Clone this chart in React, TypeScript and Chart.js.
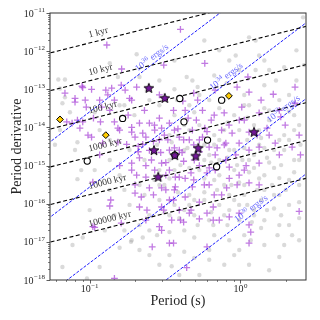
import React, { useEffect, useRef } from "react";
import { Chart, registerables } from "chart.js";

Chart.register(...registerables);

// ---------- axes ----------
const periodMin = 0.0546;
const periodMax = 2.72;
const pdotMin = 1e-18;
const pdotMax = 1e-11;

const xMajorTicks = [0.1, 1];
const xMajorExps = ["−1", "0"];
const xMinorTicks = [0.06, 0.07, 0.08, 0.09, 0.2, 0.3, 0.4, 0.5, 0.6, 0.7, 0.8, 0.9, 2];
const yMajorTicks = [1e-11, 1e-12, 1e-13, 1e-14, 1e-15, 1e-16, 1e-17, 1e-18];
const yMajorExps = ["−11", "−12", "−13", "−14", "−15", "−16", "−17", "−18"];
const yMinorMantissas = [2, 3, 4, 5, 6, 7, 8, 9];

const xTitle = "Period (s)";
const yTitle = "Period derivative";

// ---------- reference lines ----------
const lineEndP = [0.05, 3];
const ageLabels = ["1 kyr", "10 kyr", "100 kyr", "1000 kyr", "10000 kyr", "100000 kyr"];
const agePdotAtStart = [8.2e-13, 8.4e-14, 8.3e-15, 8.4e-16, 8.7e-17, 9.0e-18];
const agePdotAtEnd = [4.9e-11, 4.9e-12, 4.9e-13, 4.9e-14, 5.0e-15, 5.1e-16];
const ageLabelP = 0.1;

const edotExps = ["36", "34", "32", "30"];
const edotPdotAtStart = [3.2e-15, 3.4e-17, 3.5e-19, 3.8e-21];
const edotPdotAtEnd = [6.9e-10, 7.4e-12, 7.6e-14, 8.1e-16];
const edotLabelP = [0.212, 0.66, 1.58, 0.965];

// ---------- scatter data [P (s), Pdot] ----------
const greyPoints: [number, number][] = [
  [2.6, 7.7e-12], [1.14, 2.3e-12], [1.26, 1.9e-12], [0.93, 7.7e-13], [1.33, 7.7e-13], [2.35, 1.05e-12],
  [1.95, 3.8e-13], [1.55, 3.2e-13], [1.26, 3.2e-13], [0.98, 3.2e-13], [0.44, 2.1e-13], [0.48, 1.7e-13],
  [1.72, 1.7e-13], [0.81, 1.45e-13], [0.52, 1.15e-13], [2.35, 1.7e-13], [0.205, 8.3e-13], [0.136, 4.8e-13],
  [0.154, 2.1e-13], [0.214, 2.1e-13], [0.24, 9.5e-14], [0.062, 1.8e-13], [0.0686, 1.8e-13], [0.0636, 1.05e-13],
  [0.0686, 6.2e-14], [0.066, 4.3e-14], [0.0589, 3.5e-15], [0.724, 1.05e-12], [0.365, 5.7e-13], [0.67, 2.3e-13],
  [1.44, 5.7e-13], [2.1, 7.1e-14], [1.06, 7.1e-14], [0.78, 5.2e-14], [0.534, 7.1e-14], [0.365, 1.0e-13],
  [0.29, 1.7e-13], [0.249, 5.2e-14], [0.17, 3.8e-14], [0.108, 2.5e-14], [0.074, 2.5e-14], [0.0636, 8.5e-15],
  [0.1165, 8.5e-15], [0.136, 4.7e-15], [0.08, 2.55e-15],
  [0.29, 3.8e-14], [0.365, 2.1e-14], [0.458, 3.8e-14], [0.621, 5.2e-14], [0.724, 3.2e-14], [0.909, 2.1e-14],
  [1.14, 3.8e-14], [1.44, 3.2e-14], [1.81, 5.2e-14], [2.27, 2.1e-14], [2.45, 1.15e-14], [1.95, 6.3e-15],
  [1.55, 1.55e-14], [1.23, 1.15e-14], [0.982, 8.5e-15], [0.82, 1.35e-14], [0.67, 6.3e-15], [0.534, 1.15e-14],
  [0.424, 1.15e-14], [0.338, 6.3e-15], [0.28, 3.5e-15], [0.35, 4.1e-15], [0.445, 2.9e-15], [0.576, 3.5e-15],
  [0.724, 4.7e-15], [0.909, 2.55e-15], [1.11, 4.7e-15], [1.37, 5.3e-15], [1.67, 2.55e-15], [2.1, 4.7e-15],
  [2.5, 3.5e-15], [2.27, 1.4e-15], [1.86, 1.03e-15], [1.5, 1.6e-15], [1.23, 1.9e-15], [1.03, 1.4e-15],
  [0.82, 1.6e-15], [0.64, 1.2e-15], [0.52, 1.6e-15], [0.40, 1.03e-15], [0.338, 1.4e-15], [0.29, 7.6e-16],
  [0.365, 7.6e-16], [0.458, 8.7e-16], [0.576, 4.6e-16], [0.724, 5.6e-16], [0.909, 7.6e-16], [1.14, 6.7e-16],
  [1.44, 5.6e-16], [1.81, 4.7e-16], [2.27, 6.7e-16], [2.45, 3.1e-16], [2.0, 2.3e-16], [1.62, 3.1e-16],
  [1.29, 2.3e-16], [1.06, 1.7e-16], [0.87, 3.1e-16], [0.70, 2.3e-16], [0.576, 2.0e-16], [0.458, 1.7e-16],
  [0.385, 2.0e-16], [0.313, 3.1e-16], [0.269, 4.2e-16], [0.29, 1.25e-16], [0.365, 9.3e-17], [0.458, 9.3e-17],
  [0.576, 1.25e-16], [0.724, 9.3e-17], [0.909, 1.25e-16], [1.11, 9.3e-17], [1.37, 1.25e-16], [1.67, 1.7e-16],
  [2.1, 9.3e-17], [2.45, 1.1e-16], [1.86, 5.0e-17], [1.5, 6.8e-17], [1.23, 5.0e-17], [0.982, 3.7e-17],
  [0.82, 2.75e-17], [0.66, 2.75e-17], [0.52, 2.75e-17], [0.424, 2.0e-17], [0.338, 1.8e-17], [0.28, 1.5e-17],
  [0.249, 5.0e-17], [0.214, 2.75e-17], [0.184, 9.3e-17], [0.17, 2.3e-16], [0.214, 3.1e-16], [0.158, 5.6e-16],
  [0.136, 1.4e-15], [0.184, 2.55e-15], [0.231, 1.4e-15], [0.231, 1.7e-16], [0.494, 1.3e-17], [0.67, 1.5e-17],
  [0.843, 1.1e-17], [1.06, 1.5e-17], [1.37, 2.3e-17], [1.76, 1.5e-17], [2.2, 1.5e-17], [0.424, 5.5e-18],
  [0.494, 3.8e-18], [0.621, 3.4e-18], [1.81, 4.0e-18], [0.35, 2.3e-18], [1.19, 3.3e-17], [1.17, 1.1e-17],
  [2.45, 4.2e-17], [1.44, 8.3e-18], [0.982, 6.1e-18], [0.781, 2.5e-18], [0.621, 6.1e-18], [0.249, 4.5e-18],
  [0.29, 2.5e-18], [0.188, 1.0e-17], [0.225, 1.3e-17], [0.338, 4.5e-18], [0.1165, 2.2e-18], [0.096, 1.1e-18],
  [0.066, 2.2e-18], [0.077, 8.3e-18], [0.09, 1.3e-17], [0.083, 4.4e-16], [0.088, 7.6e-16], [0.083, 4.1e-15],
  [0.19, 1.1e-17], [0.158, 7.0e-18], [0.126, 2.0e-17], [0.10, 6.8e-17], [0.146, 5.0e-17], [1.55, 1.8e-18],
  [1.14, 2.5e-18], [0.534, 1.35e-18], [0.393, 1.35e-18],
  [0.78, 8.5e-15], [1.06, 2.9e-15], [1.33, 3.5e-15], [0.621, 1.9e-15], [0.95, 1.03e-15], [1.23, 8.7e-16],
  [1.55, 1.2e-15], [1.95, 2.55e-15], [0.78, 3.1e-16], [0.98, 3.6e-16], [1.44, 2.3e-16], [1.81, 1.7e-16],
  [0.64, 6.0e-17], [0.843, 6.8e-17], [0.494, 5.0e-17], [0.393, 4.2e-17], [0.313, 5.8e-17], [0.249, 2.0e-17],
  [2.1, 2.75e-17], [1.67, 7.5e-17], [0.38, 5.2e-14], [0.494, 2.5e-14], [1.11, 1.8e-14], [2.1, 2.6e-14],
  [1.44, 1.28e-13], [2.64, 4.3e-13], [0.843, 5.7e-13], [0.576, 1.9e-12], [0.158, 3.8e-14], [0.198, 2.1e-14],
  [0.534, 7.6e-16], [0.67, 4.2e-16], [0.843, 1.7e-16], [1.06, 3.1e-16], [1.33, 4.6e-16], [1.67, 8.7e-16],
  [2.1, 4.2e-16], [1.14, 1.4e-15], [1.44, 2.9e-15], [1.81, 4.7e-15], [2.27, 8.5e-15], [1.23, 6.8e-17],
  [0.98, 9.3e-17], [0.78, 5.0e-17], [0.62, 3.7e-17], [1.44, 3.7e-17], [1.81, 2.75e-17], [0.494, 1.25e-16],
  [0.424, 6.8e-17], [0.338, 5.0e-17], [0.29, 3.1e-16], [0.338, 4.6e-16], [0.843, 2.55e-15], [0.67, 3.5e-15],
  [0.576, 1.4e-15], [0.724, 1.4e-15], [0.424, 2.55e-15], [0.365, 1.9e-15], [0.458, 8.5e-15], [1.33, 8.5e-15],
  [1.55, 2.8e-14], [1.06, 3.8e-14], [2.45, 1.4e-15], [2.45, 1.1e-17], [1.95, 8.3e-18], [0.909, 4.5e-18],
  [0.214, 6.1e-18], [0.17, 2.0e-17], [0.136, 2.3e-16], [0.108, 7.6e-16],
];

const purplePoints: [number, number][] = [
  [0.130, 1.45e-12], [0.163, 3.4e-13], [0.0686, 7.9e-14], [0.089, 1.2e-13], [0.103, 1.0e-13], [0.1165, 5.2e-14],
  [0.0935, 5.2e-14], [0.080, 4.6e-14], [0.12, 3.4e-14], [0.136, 2.8e-14], [0.146, 5.2e-14], [0.19, 5.2e-14],
  [0.0705, 1.4e-14], [0.0765, 1.3e-14], [0.0862, 9.6e-15], [0.0975, 6.3e-15], [0.154, 9.6e-15], [0.19, 7.5e-15],
  [0.236, 5.6e-15], [0.27, 8.5e-15], [0.214, 1.3e-14], [0.21, 3.2e-15], [0.249, 2.5e-15],
  [0.40, 3.7e-12], [0.31, 4.3e-13], [0.58, 4.8e-13], [1.12, 2.1e-13], [0.49, 7.9e-14], [0.415, 4.9e-14],
  [1.37, 5.2e-14], [1.65, 7.4e-14], [2.3, 1.14e-13], [1.14, 8.4e-14], [0.95, 1.14e-13], [0.68, 9.5e-14],
  [0.36, 2.8e-14], [0.43, 2.8e-14], [0.56, 2.8e-14], [0.78, 2.4e-14], [1.02, 3.4e-14], [1.33, 2.4e-14],
  [1.81, 2.8e-14], [2.3, 4.3e-14], [1.85, 1.9e-14], [1.5, 9.6e-15], [1.98, 1.15e-14], [2.45, 6.3e-15],
  [1.14, 7.5e-15], [0.88, 7.1e-15], [0.75, 8.5e-15], [0.64, 1.55e-14], [0.51, 1.55e-14], [0.45, 1.75e-14],
  [0.338, 1.3e-14], [0.48, 8.5e-15], [0.56, 5.6e-15], [0.393, 5.6e-15], [0.33, 4.7e-15], [0.62, 3.05e-15],
  [0.80, 3.9e-15], [0.98, 3.9e-15], [1.33, 3.05e-15], [1.7, 3.9e-15], [2.2, 3.05e-15], [2.5, 1.9e-15],
  [1.81, 1.9e-15], [0.534, 2.3e-15], [0.41, 2.2e-15],
  [0.30, 1.16e-15], [0.32, 5.6e-16], [0.393, 5.0e-16], [0.47, 6.4e-16], [0.60, 6.4e-16], [0.843, 9.1e-16],
  [1.09, 1.0e-15], [1.33, 1.16e-15], [0.32, 2.3e-16], [0.37, 2.75e-16], [0.48, 2.75e-16], [0.62, 3.1e-16],
  [0.75, 1.7e-16], [0.81, 2.6e-16], [0.95, 3.1e-16], [1.14, 3.5e-16], [1.33, 3.1e-16], [0.36, 1.25e-16],
  [0.43, 1.5e-16], [0.534, 1.1e-16], [0.66, 8.2e-17], [0.393, 6.8e-17], [0.47, 6.8e-17], [0.60, 5.7e-17],
  [0.31, 6.8e-17], [0.35, 3.7e-17], [0.42, 3.3e-17], [0.534, 4.0e-17], [0.724, 3.7e-17], [0.30, 2.0e-17],
  [0.36, 9.3e-18], [1.14, 2.8e-17], [1.17, 1.8e-17], [1.14, 9.3e-18], [2.45, 6.3e-17], [0.98, 5.7e-17],
  [0.44, 2.1e-18], [0.60, 7.4e-18], [0.843, 4.5e-17], [0.66, 3.7e-17], [0.40, 3.7e-17], [0.458, 5.7e-17],
  [0.138, 1.25e-16], [0.136, 8.7e-17], [0.214, 8.2e-17], [0.24, 6.8e-17], [0.162, 3.1e-17], [0.105, 2.5e-17],
  [0.236, 3.7e-17], [0.29, 2.5e-17], [0.26, 7.4e-18], [0.338, 9.3e-18], [0.20, 1.9e-16], [0.22, 1.5e-16],
  [0.249, 2.6e-16], [0.30, 2.6e-16], [0.338, 1.25e-16], [0.30, 8.2e-17], [0.37, 5.0e-16], [0.236, 5.0e-16],
  [0.20, 3.1e-16], [0.146, 1.1e-18],
  [0.09, 1.1e-13], [0.128, 9.5e-14], [0.140, 1.07e-13], [0.172, 9.5e-14], [0.205, 1.14e-13], [0.184, 5.8e-14],
  [0.08, 5.8e-14], [0.095, 3.4e-14], [0.083, 1.55e-14], [0.090, 1.4e-14], [0.106, 1.75e-14], [0.118, 1.4e-14],
  [0.146, 1.4e-14], [0.249, 1.3e-14], [0.29, 1.75e-14], [0.19, 1.0e-14], [0.158, 8.5e-15], [0.103, 5.6e-15],
  [0.122, 3.9e-15], [0.154, 4.1e-15], [0.20, 5.6e-15], [0.225, 7.1e-15], [0.30, 9.6e-15], [0.176, 3.6e-15],
  [0.21, 2.3e-15], [0.225, 3.6e-15], [0.296, 2.2e-15], [0.32, 1.2e-15], [0.236, 1.0e-15], [0.27, 7.6e-16],
  [0.205, 5.6e-16], [0.158, 1.0e-15], [0.1165, 1.9e-15], [0.105, 3.7e-16], [0.108, 2.4e-17], [0.19, 1.16e-15],
  [0.365, 8.5e-15], [0.42, 4.7e-15], [0.49, 3.5e-15], [0.68, 1.9e-15], [0.42, 1.3e-15], [0.534, 1.0e-15],
  [0.68, 7.6e-16], [0.98, 5.6e-16], [0.265, 4.3e-15], [0.365, 2.9e-15], [0.58, 9.6e-15], [0.84, 1.15e-14],
  [1.06, 1.55e-14], [1.55, 6.3e-15], [0.49, 4.2e-16], [0.265, 1.7e-16],
  [0.269, 1.15e-14], [0.313, 6.3e-15], [0.385, 9.2e-15], [0.458, 4.7e-15], [0.60, 7.8e-15], [0.70, 2.9e-15],
  [0.80, 1.4e-15], [0.93, 1.9e-15], [1.14, 2.55e-15], [0.393, 2.55e-15], [0.338, 7.6e-16], [0.43, 4.6e-16],
  [0.576, 3.1e-16], [0.67, 1.7e-16], [0.843, 4.6e-16], [1.06, 7.6e-16], [0.29, 4.7e-15], [0.257, 1.4e-15],
  [0.365, 2.3e-16], [0.494, 1.4e-15], [0.621, 8.7e-16], [0.781, 3.5e-15], [0.982, 1.55e-14], [0.52, 5.2e-14],
  [0.67, 2.1e-14], [0.29, 7.1e-14], [0.231, 2.8e-14], [0.18, 2.1e-14], [0.162, 1.28e-13], [0.132, 7.1e-14],
  [0.214, 1.6e-15], [0.19, 7.6e-16], [0.534, 4.7e-15], [0.338, 2.55e-15], [1.29, 6.3e-15],
];

const starPoints: [number, number][] = [
  [0.247, 1.09e-13], [0.315, 5.95e-14], [0.267, 2.55e-15], [0.285, 5.1e-16],
  [0.525, 2.92e-15], [0.367, 1.88e-15], [0.505, 1.82e-15], [1.23, 7.7e-15],
];

const circlePoints: [number, number][] = [
  [0.1655, 1.72e-14], [0.0964, 1.31e-15], [0.396, 5.74e-14], [0.75, 5.19e-14],
  [0.422, 1.4e-14], [0.605, 4.65e-15], [0.367, 1.88e-15], [0.695, 9.3e-16],
];

const diamondPoints: [number, number][] = [
  [0.0636, 1.62e-14], [0.128, 6.28e-15], [0.838, 6.71e-14],
];

// ---------- styling ----------
const SERIF = '"Liberation Serif", "DejaVu Serif", serif';
const TEXT = "#262626";

function toXY(pts: [number, number][]) {
  return pts.map(([x, y]) => ({ x, y }));
}

function makeStar(): HTMLCanvasElement {
  const c = document.createElement("canvas");
  const s = 12;
  c.width = s;
  c.height = s;
  const ctx = c.getContext("2d")!;
  const cx = s / 2;
  const cy = s / 2 + 0.5;
  const R = 5.1;
  const r = 2.2;
  ctx.beginPath();
  for (let i = 0; i < 10; i++) {
    const a = -Math.PI / 2 + (i * Math.PI) / 5;
    const rad = i % 2 === 0 ? R : r;
    ctx.lineTo(cx + rad * Math.cos(a), cy + rad * Math.sin(a));
  }
  ctx.closePath();
  ctx.fillStyle = "#74189a";
  ctx.fill();
  ctx.lineWidth = 0.9;
  ctx.strokeStyle = "#000";
  ctx.stroke();
  return c;
}

function drawPow(
  ctx: CanvasRenderingContext2D,
  base: string,
  exp: string,
  x: number,
  y: number,
  align: "left" | "right" | "center",
  baseSize: number,
  expSize: number,
  rise: number
) {
  ctx.font = `${baseSize}px ${SERIF}`;
  const wb = ctx.measureText(base).width;
  ctx.font = `${expSize}px ${SERIF}`;
  const we = ctx.measureText(exp).width;
  const total = wb + we + 0.5;
  let x0 = x;
  if (align === "right") x0 = x - total;
  else if (align === "center") x0 = x - total / 2;
  ctx.textAlign = "left";
  ctx.textBaseline = "alphabetic";
  ctx.font = `${baseSize}px ${SERIF}`;
  ctx.fillText(base, x0, y);
  ctx.font = `${expSize}px ${SERIF}`;
  ctx.fillText(exp, x0 + wb + 0.5, y - rise);
  return total;
}

const overlay = {
  id: "overlay",
  afterDraw(chart: any) {
    const { ctx, chartArea: a } = chart;
    const xs = chart.scales.x;
    const ys = chart.scales.y;
    ctx.save();

    // line labels (clipped to plot area)
    ctx.save();
    ctx.beginPath();
    ctx.rect(a.left, a.top, a.right - a.left, a.bottom - a.top);
    ctx.clip();
    const px0 = xs.getPixelForValue(lineEndP[0]);
    const px1 = xs.getPixelForValue(lineEndP[1]);
    ageLabels.forEach((lab, i) => {
      const py0 = ys.getPixelForValue(agePdotAtStart[i]);
      const py1 = ys.getPixelForValue(agePdotAtEnd[i]);
      const lx = xs.getPixelForValue(ageLabelP);
      const ly = py0 + ((lx - px0) * (py1 - py0)) / (px1 - px0);
      const ang = Math.atan2(py1 - py0, px1 - px0);
      ctx.save();
      ctx.translate(lx, ly);
      ctx.rotate(ang);
      ctx.fillStyle = "#333";
      ctx.font = `9.5px ${SERIF}`;
      ctx.textAlign = "left";
      ctx.textBaseline = "alphabetic";
      ctx.fillText(lab, 1, -5.5);
      ctx.restore();
    });
    edotExps.forEach((e, i) => {
      const py0 = ys.getPixelForValue(edotPdotAtStart[i]);
      const py1 = ys.getPixelForValue(edotPdotAtEnd[i]);
      const lx = xs.getPixelForValue(edotLabelP[i]);
      const ly = py0 + ((lx - px0) * (py1 - py0)) / (px1 - px0);
      const ang = Math.atan2(py1 - py0, px1 - px0);
      ctx.save();
      ctx.translate(lx, ly);
      ctx.rotate(ang);
      ctx.fillStyle = "rgba(50,50,255,0.75)";
      const w = drawPow(ctx, "10", e, 1, -3, "left", 9, 6.5, 3.5);
      ctx.font = `9px ${SERIF}`;
      ctx.fillText(" ergs/s", 1 + w, -3);
      ctx.restore();
    });
    ctx.restore();

    // frame
    ctx.strokeStyle = "#333";
    ctx.lineWidth = 1;
    ctx.strokeRect(a.left, a.top, a.right - a.left, a.bottom - a.top);

    // ticks
    ctx.beginPath();
    yMajorTicks.forEach((v) => {
      const y = Math.round(ys.getPixelForValue(v)) + 0.5;
      ctx.moveTo(a.left - 3.5, y);
      ctx.lineTo(a.left, y);
    });
    xMajorTicks.forEach((v) => {
      const x = Math.round(xs.getPixelForValue(v)) + 0.5;
      ctx.moveTo(x, a.bottom);
      ctx.lineTo(x, a.bottom + 3.5);
    });
    ctx.lineWidth = 0.8;
    ctx.stroke();
    ctx.beginPath();
    for (let k = -18; k < -11; k++) {
      yMinorMantissas.forEach((m) => {
        const y = Math.round(ys.getPixelForValue(m * Math.pow(10, k))) + 0.5;
        ctx.moveTo(a.left - 2, y);
        ctx.lineTo(a.left, y);
      });
    }
    xMinorTicks.forEach((v) => {
      const x = Math.round(xs.getPixelForValue(v)) + 0.5;
      ctx.moveTo(x, a.bottom);
      ctx.lineTo(x, a.bottom + 2);
    });
    ctx.lineWidth = 0.6;
    ctx.stroke();

    // tick labels
    ctx.fillStyle = TEXT;
    yMajorTicks.forEach((v, i) => {
      const y = ys.getPixelForValue(v);
      drawPow(ctx, "10", yMajorExps[i], a.left - 5, y + 3.5, "right", 10, 7, 4.5);
    });
    xMajorTicks.forEach((v, i) => {
      const x = xs.getPixelForValue(v);
      drawPow(ctx, "10", xMajorExps[i], x, a.bottom + 12, "center", 10, 7, 4.5);
    });

    // titles
    ctx.font = `14px ${SERIF}`;
    ctx.textAlign = "center";
    ctx.textBaseline = "alphabetic";
    ctx.fillText(xTitle, (a.left + a.right) / 2, 305);
    ctx.save();
    ctx.translate(21, (a.top + a.bottom) / 2);
    ctx.rotate(-Math.PI / 2);
    ctx.fillText(yTitle, 0, 0);
    ctx.restore();

    ctx.restore();
  },
};

export default function App() {
  const ref = useRef<HTMLCanvasElement>(null);
  useEffect(() => {
    const canvas = ref.current;
    if (!canvas) return;
    const star = makeStar();
    const lineSets: any[] = [];
    ageLabels.forEach((lab, i) => {
      lineSets.push({
        label: lab,
        data: [
          { x: lineEndP[0], y: agePdotAtStart[i] },
          { x: lineEndP[1], y: agePdotAtEnd[i] },
        ],
        showLine: true,
        pointRadius: 0,
        borderColor: "#000",
        borderWidth: 1.1,
        borderDash: [4, 2.5],
        fill: false,
        order: 4,
      });
    });
    edotExps.forEach((e, i) => {
      lineSets.push({
        label: "1e" + e,
        data: [
          { x: lineEndP[0], y: edotPdotAtStart[i] },
          { x: lineEndP[1], y: edotPdotAtEnd[i] },
        ],
        showLine: true,
        pointRadius: 0,
        borderColor: "#1a1aff",
        borderWidth: 1,
        borderDash: [3, 1.5],
        fill: false,
        order: 4,
      });
    });
    const chart = new Chart(canvas, {
      type: "scatter",
      data: {
        datasets: [
          {
            label: "stars",
            data: toXY(starPoints),
            pointStyle: star as any,
            pointRadius: 5,
            order: 1,
          },
          {
            label: "diamonds",
            data: toXY(diamondPoints),
            pointStyle: "rectRot",
            pointRadius: 3.4,
            backgroundColor: "#ffcc00",
            borderColor: "#000",
            borderWidth: 1,
            order: 2,
          },
          {
            label: "circles",
            data: toXY(circlePoints),
            pointStyle: "circle",
            pointRadius: 3.1,
            backgroundColor: "#ffffff",
            borderColor: "#000",
            borderWidth: 1.1,
            order: 3,
          },
          ...lineSets,
          {
            label: "purple",
            data: toXY(purplePoints),
            pointStyle: "cross",
            pointRadius: 3.4,
            borderColor: "rgba(160,50,210,0.65)",
            borderWidth: 1.3,
            order: 5,
          },
          {
            label: "grey",
            data: toXY(greyPoints),
            pointStyle: "circle",
            pointRadius: 2.2,
            backgroundColor: "rgba(150,150,150,0.35)",
            borderWidth: 0,
            order: 6,
          },
        ],
      },
      options: {
        responsive: false,
        animation: false,
        devicePixelRatio: 1,
        events: [],
        layout: { padding: { left: 50, right: 14, top: 13, bottom: 40 } },
        plugins: { legend: { display: false }, tooltip: { enabled: false } },
        scales: {
          x: { type: "logarithmic", min: periodMin, max: periodMax, display: false, bounds: "data" },
          y: { type: "logarithmic", min: pdotMin, max: pdotMax, display: false, bounds: "data" },
        },
      },
      plugins: [overlay],
    });
    return () => chart.destroy();
  }, []);
  return (
    <div style={{ position: "absolute", left: 0, top: 0, width: 320, height: 320, background: "#fff" }}>
      <canvas ref={ref} width={320} height={320} style={{ width: 320, height: 320, display: "block" }} />
    </div>
  );
}
